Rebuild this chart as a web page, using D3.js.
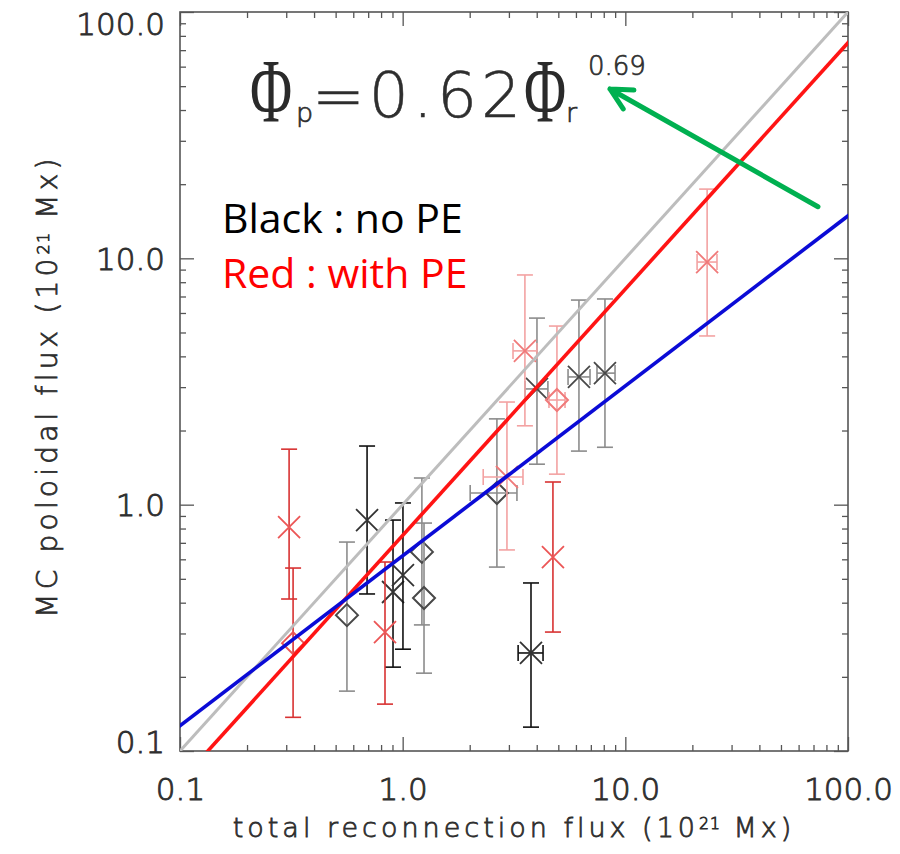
<!DOCTYPE html>
<html><head><meta charset="utf-8">
<script src="https://cdn.jsdelivr.net/npm/d3@7"></script>
<style>body{margin:0;background:#fff}</style>
</head><body>
<svg id="chart" width="900" height="854"></svg>
<script>
// ---------------- data ----------------
// Black : no PE
const noPE_flux   = [0.562, 0.692, 0.905, 1.003, 1.22, 1.247, 4.01, 6.19, 8.10, 2.65, 3.77];
const noPE_fluxLo = [null, null, null, null, null, null, 3.54, 5.53, 7.46, 2.01, 3.30];
const noPE_fluxHi = [null, null, null, null, null, null, 4.49, 6.94, 8.99, 3.26, 4.27];
const noPE_pol    = [0.356, 0.866, 0.442, 0.518, 0.643, 0.418, 2.95, 3.30, 3.42, 1.115, 0.250];
const noPE_polLo  = [0.175, 0.434, 0.219, 0.259, 0.325, 0.207, 1.46, 1.65, 1.71, 0.558, 0.125];
const noPE_polHi  = [0.705, 1.73, 0.866, 1.016, 1.283, 0.842, 5.72, 6.77, 6.84, 2.23, 0.481];
const noPE_shape  = ["diamond","cross","cross","cross","diamond","diamond","cross","cross","cross","diamond","cross"];
const noPE_set    = ["B","A","A","A","B","B","B","B","B","B","A"];

// Red : with PE
const PE_flux   = [0.309, 0.322, 0.833, 3.54, 4.93, 2.94, 4.73, 23.3];
const PE_fluxLo = [null, null, null, 3.13, 4.54, 2.30, null, 21.0];
const PE_fluxHi = [null, null, null, 4.01, 5.36, 3.47, null, 25.8];
const PE_pol    = [0.811, 0.274, 0.304, 4.21, 2.66, 1.295, 0.613, 9.66];
const PE_polLo  = [0.414, 0.137, 0.155, 2.09, 1.33, 0.655, 0.304, 4.84];
const PE_polHi  = [1.68, 0.553, 0.585, 8.56, 5.31, 2.61, 1.236, 19.1];
const PE_shape  = ["cross","diamond","cross","cross","diamond","cross","cross","cross"];
const PE_set    = ["A","A","A","B","B","B","A","B"];

// fitted / reference lines  Φp = coef * Φr ^ exp
const fitNames = ["one-to-one", "with PE", "power law"];
const fitCoef  = [1.0, 0.75, 0.62];
const fitExp   = [1.0, 1.0, 0.69];

// axes
const domainMin = 0.1, domainMax = 100;
const majorTicks = [0.1, 1, 10, 100];
const majorLabels = ["0.1", "1.0", "10.0", "100.0"];
const xTitle = ["total reconnection flux (10", "21", " Mx)"];
const yTitle = ["MC poloidal flux (10", "21", " Mx)"];
const legendLabels = ["Black : no PE", "Red : with PE"];
const eqCoef = "0.62", eqExp = "0.69";
// arrow annotation (data units): from -> to
const arrowFrom = [73.3, 16.2], arrowTo = [8.53, 48.7];

// ---------------- drawing ----------------
const svg = d3.select("#chart");
svg.append("rect").attr("width",900).attr("height",854).attr("fill","#fff");

const L = 180, R = 848, T = 12, B = 751;
const x = d3.scaleLog().domain([domainMin, domainMax]).range([L, R]);
const y = d3.scaleLog().domain([domainMin, domainMax]).range([B, T]);

const minorTicks = [];
[0.1, 1, 10].forEach(d => { for (let k = 2; k <= 9; k++) minorTicks.push(+(d*k).toPrecision(3)); });

const thinFont = "DejaVu Sans ExtraLight, DejaVu Sans";
const txtCol = "#2e2e2e";
function thin(sel, stroke){
  return sel.attr("font-family", thinFont).attr("font-weight", 200)
    .attr("fill", txtCol).attr("stroke", txtCol).attr("stroke-width", stroke);
}

const axisCol = "#555";
function styleAxis(g){
  g.select(".domain").remove();
  g.selectAll(".tick line").attr("stroke", axisCol).attr("stroke-width", 1.3);
}
const fs = 31;
// bottom
const gb = svg.append("g").attr("transform",`translate(0,${B})`)
  .call(d3.axisBottom(x).tickValues(majorTicks).tickSize(-14).tickPadding(27)
    .tickFormat((d,i)=>majorLabels[i]));
styleAxis(gb);
thin(gb.selectAll("text").attr("font-size",fs), 0.9);
svg.append("g").attr("transform",`translate(0,${B})`)
  .call(d3.axisBottom(x).tickValues(minorTicks).tickSize(-6).tickFormat("")).call(styleAxis);
// top
svg.append("g").attr("transform",`translate(0,${T})`)
  .call(d3.axisTop(x).tickValues(majorTicks).tickSize(-14).tickFormat("")).call(styleAxis);
svg.append("g").attr("transform",`translate(0,${T})`)
  .call(d3.axisTop(x).tickValues(minorTicks).tickSize(-6).tickFormat("")).call(styleAxis);
// left
const gl = svg.append("g").attr("transform",`translate(${L},0)`)
  .call(d3.axisLeft(y).tickValues(majorTicks).tickSize(-14).tickPadding(15)
    .tickFormat((d,i)=>majorLabels[i]));
styleAxis(gl);
thin(gl.selectAll("text").attr("font-size",fs), 0.9)
  .attr("dy", null)
  .attr("y", function(d){
    // centre the digits on the tick, but keep them inside the frame's vertical span
    const base = y(d) + 0.36*fs, top = base - 0.73*fs;
    let shift = 0;
    if (top < T) shift = T - top;
    if (base > B + 1) shift = B + 1 - base;
    return base + shift - y(d);
  });
svg.append("g").attr("transform",`translate(${L},0)`)
  .call(d3.axisLeft(y).tickValues(minorTicks).tickSize(-6).tickFormat("")).call(styleAxis);
// right
svg.append("g").attr("transform",`translate(${R},0)`)
  .call(d3.axisRight(y).tickValues(majorTicks).tickSize(-14).tickFormat("")).call(styleAxis);
svg.append("g").attr("transform",`translate(${R},0)`)
  .call(d3.axisRight(y).tickValues(minorTicks).tickSize(-6).tickFormat("")).call(styleAxis);

// frame
svg.append("rect").attr("x",L).attr("y",T).attr("width",R-L).attr("height",B-T)
  .attr("fill","none").attr("stroke",axisCol).attr("stroke-width",1.6);

// axis titles
function title(parts, attrs, fsz, ls){
  const t = thin(svg.append("text").attr("font-size",fsz), 0.8)
    .attr("letter-spacing",ls).attr("text-anchor","middle");
  Object.entries(attrs).forEach(([k,v])=>t.attr(k,v));
  t.append("tspan").text(parts[0]);
  t.append("tspan").attr("font-size",fsz*0.58).attr("dy",-fsz*0.28).attr("letter-spacing",1).text(parts[1]);
  t.append("tspan").attr("dy",fsz*0.28).text(parts[2]);
  return t;
}
title(xTitle, {x:514, y:837}, 27, 4.0);
title(yTitle, {transform:"translate(57,386) rotate(-90)"}, 28, 4.2);

// clip
svg.append("clipPath").attr("id","plotclip").append("rect")
  .attr("x",L).attr("y",T).attr("width",R-L).attr("height",B-T);
const plot = svg.append("g").attr("clip-path","url(#plotclip)");

// series
const palette = {
  noPE: {A:{bar:"#111111", mk:"#333333"}, B:{bar:"#8c8c8c", mk:"#484848"}},
  PE:   {A:{bar:"#d83232", mk:"#ec5656"}, B:{bar:"#f3a2a2", mk:"#f07a7a"}}
};
function build(flux, fLo, fHi, pol, pLo, pHi, shape, set){
  return flux.map((f,i)=>({f, fLo:fLo[i], fHi:fHi[i], p:pol[i], pLo:pLo[i], pHi:pHi[i], shape:shape[i], set:set[i]}));
}
const series = [
  {key:"noPE", data: build(noPE_flux,noPE_fluxLo,noPE_fluxHi,noPE_pol,noPE_polLo,noPE_polHi,noPE_shape,noPE_set)},
  {key:"PE",   data: build(PE_flux,PE_fluxLo,PE_fluxHi,PE_pol,PE_polLo,PE_polHi,PE_shape,PE_set)}
];
const cap = 8, ms = 11;
series.forEach(s=>{
  const g = plot.append("g");
  s.data.forEach(d=>{
    const c = palette[s.key][d.set];
    const cx = x(d.f), cy = y(d.p);
    const eb = g.append("g").attr("stroke", c.bar).attr("stroke-width", 1.6).attr("fill","none");
    eb.append("line").attr("x1",cx).attr("x2",cx).attr("y1",y(d.pLo)).attr("y2",y(d.pHi));
    eb.append("line").attr("x1",cx-cap).attr("x2",cx+cap).attr("y1",y(d.pLo)).attr("y2",y(d.pLo));
    eb.append("line").attr("x1",cx-cap).attr("x2",cx+cap).attr("y1",y(d.pHi)).attr("y2",y(d.pHi));
    if (d.fLo != null){
      eb.append("line").attr("x1",x(d.fLo)).attr("x2",x(d.fHi)).attr("y1",cy).attr("y2",cy);
      eb.append("line").attr("x1",x(d.fLo)).attr("x2",x(d.fLo)).attr("y1",cy-cap).attr("y2",cy+cap);
      eb.append("line").attr("x1",x(d.fHi)).attr("x2",x(d.fHi)).attr("y1",cy-cap).attr("y2",cy+cap);
    }
    const path = d.shape === "cross"
      ? `M${-ms},${-ms}L${ms},${ms}M${-ms},${ms}L${ms},${-ms}`
      : `M0,${-ms}L${ms},0L0,${ms}L${-ms},0Z`;
    g.append("path").attr("d",path).attr("transform",`translate(${cx},${cy})`)
      .attr("fill","none").attr("stroke",c.mk).attr("stroke-width", d.shape==="cross"?1.8:2);
  });
});

// fit lines
const lineCols = ["#bdbdbd", "#ff1414", "#0b0bd6"];
const lineW = [3, 3.6, 3.6];
const line = d3.line().x(d=>x(d[0])).y(d=>y(d[1]));
fitNames.forEach((n,i)=>{
  const pts = [domainMin/10, domainMax*10].map(v=>[v, fitCoef[i]*Math.pow(v, fitExp[i])]);
  plot.append("path").attr("d", line(pts)).attr("fill","none")
    .attr("stroke", lineCols[i]).attr("stroke-width", lineW[i]);
});

// equation
const eq = svg.append("g");
function phi(cx){
  eq.append("text").attr("font-family","Liberation Serif, DejaVu Serif, serif").attr("font-size",90)
    .attr("fill","#2a2a2a").attr("text-anchor","middle")
    .attr("transform",`translate(${cx},122) scale(0.64,1)`).text("\u03A6");
}
phi(271);
thin(eq.append("text").attr("x",296).attr("y",122).attr("font-size",27), 0.7).text("p");
thin(eq.append("text").attr("x",312).attr("y",117).attr("font-size",63), 0.5)
  .attr("letter-spacing",4).text("=" + eqCoef);
phi(545);
thin(eq.append("text").attr("x",566).attr("y",122).attr("font-size",27), 0.7).text("r");
thin(eq.append("text").attr("x",588).attr("y",75).attr("font-size",26), 0.7).text(eqExp);

// legend text
svg.append("text").attr("x",222).attr("y",233).attr("font-family","Open Sans, Noto Sans, sans-serif")
  .attr("font-size",41).attr("fill","#000").text(legendLabels[0]);
svg.append("text").attr("x",222).attr("y",288).attr("font-family","Open Sans, Noto Sans, sans-serif")
  .attr("font-size",41).attr("fill","#ff0000").text(legendLabels[1]);

// arrow
const ax0 = x(arrowFrom[0]), ay0 = y(arrowFrom[1]), ax1 = x(arrowTo[0]), ay1 = y(arrowTo[1]);
const ang = Math.atan2(ay0-ay1, ax0-ax1), hl = 24, ha = 27*Math.PI/180;
const b1 = [ax1 + hl*Math.cos(ang-ha), ay1 + hl*Math.sin(ang-ha)];
const b2 = [ax1 + hl*Math.cos(ang+ha), ay1 + hl*Math.sin(ang+ha)];
svg.append("path")
  .attr("d", `M${ax0},${ay0}L${ax1},${ay1}M${b1[0]},${b1[1]}L${ax1},${ay1}L${b2[0]},${b2[1]}`)
  .attr("fill","none").attr("stroke","#00b050").attr("stroke-width",5)
  .attr("stroke-linecap","round").attr("stroke-linejoin","round");
</script>
</body></html>
